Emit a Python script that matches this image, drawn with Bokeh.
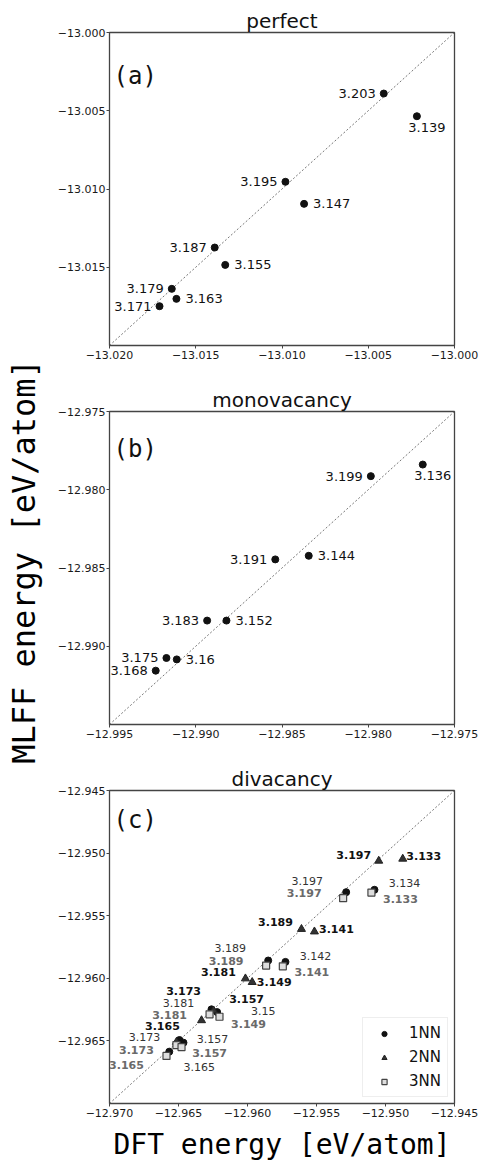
import math
from bokeh.plotting import figure
from bokeh.models import ColumnDataSource, FixedTicker, CustomJSTickFormatter, Label, Range1d
from bokeh.layouts import column, row
from bokeh.embed import file_html
from bokeh.resources import INLINE
from bokeh.core.properties import value

# ---------------- data ----------------
# (a) perfect
a_lat = ["3.203", "3.139", "3.195", "3.147", "3.187", "3.155", "3.179", "3.163", "3.171"]
a_dft = [-13.0041, -13.00218, -13.0098, -13.00872, -13.0139, -13.01329, -13.01639, -13.01612, -13.0171]
a_mlff = [-13.0039, -13.00535, -13.00954, -13.01095, -13.01374, -13.01485, -13.01638, -13.01702, -13.01749]
a_side = ["left", "below", "left", "right", "left", "right", "left", "right", "left"]
a_range = [-13.020, -13.000]
a_xticks = [-13.020, -13.015, -13.010, -13.005, -13.000]
a_yticks = [-13.015, -13.010, -13.005, -13.000]

# (b) monovacancy
b_lat = ["3.199", "3.136", "3.191", "3.144", "3.183", "3.152", "3.175", "3.16", "3.168"]
b_dft = [-12.97985, -12.97684, -12.98539, -12.98345, -12.98934, -12.98822, -12.9917, -12.9911, -12.99232]
b_mlff = [-12.97913, -12.97839, -12.98445, -12.98422, -12.98836, -12.98836, -12.99075, -12.99084, -12.99156]
b_side = ["left", "below", "left", "right", "left", "right", "left", "right", "left"]
b_range = [-12.995, -12.975]
b_xticks = [-12.995, -12.990, -12.985, -12.980, -12.975]
b_yticks = [-12.990, -12.985, -12.980, -12.975]

# (c) divacancy
c_range = [-12.970, -12.945]
c_xticks = [-12.970, -12.965, -12.960, -12.955, -12.950, -12.945]
c_yticks = [-12.965, -12.960, -12.955, -12.950, -12.945]

nn1_lat = ["3.197", "3.134", "3.189", "3.142", "3.181", "3.15", "3.173", "3.157", "3.165"]
nn1_dft = [-12.95285, -12.9508, -12.9585, -12.95725, -12.96261, -12.9622, -12.96493, -12.96464, -12.96567]
nn1_mlff = [-12.95312, -12.95293, -12.95858, -12.95869, -12.96248, -12.9627, -12.96493, -12.96514, -12.96586]
nn1_dx = [-39, 30, -38, 30, -33, 46, -35, 29, 30]
nn1_dy = [-11, -7, -13, -6, -6, -1, -3, -4, 15]

nn2_lat = ["3.197", "3.133", "3.189", "3.141", "3.181", "3.149", "3.173", "3.157", "3.165"]
nn2_dft = [-12.95049, -12.94875, -12.95609, -12.95515, -12.96015, -12.95966, -12.96333, -12.96246, -12.96515]
nn2_mlff = [-12.95062, -12.95046, -12.95607, -12.95627, -12.96002, -12.96031, -12.96336, -12.96258, -12.96509]
nn2_dx = [-25, 21, -26, 22, -27, 22, -18, 33, -14]
nn2_dy = [-6, -3, -7, -3, -7, 0, -29, -12, -16]

nn3_lat = ["3.197", "3.133", "3.189", "3.141", "3.181", "3.149", "3.173", "3.157", "3.165"]
nn3_dft = [-12.95307, -12.95102, -12.95865, -12.95744, -12.96275, -12.96203, -12.96515, -12.96478, -12.96587]
nn3_mlff = [-12.9536, -12.95315, -12.95898, -12.95904, -12.96288, -12.96307, -12.96533, -12.96549, -12.9662]
nn3_dx = [-39, 29, -40, 29, -40, 29, -40, 28, -40]
nn3_dy = [-5, 6, -5, 6, 1, 7, 5, 6, 9]

FONT = "DejaVu Sans"
MONO = "DejaVu Sans Mono"

fmt = CustomJSTickFormatter(code="return (tick < 0 ? '\\u2212' : '') + Math.abs(tick).toFixed(3);")


def make_panel(title, rng, xticks, yticks, top, bottom, letter, letter_dy):
    p = figure(frame_width=345, frame_height=313, min_border_left=65, min_border_right=27,
               min_border_top=top, min_border_bottom=bottom,
               x_range=Range1d(rng[0], rng[1]), y_range=Range1d(rng[0], rng[1]),
               toolbar_location=None, output_backend="svg")
    p.title.text = title
    p.title.align = "center"
    p.title.text_font = FONT
    p.title.text_font_size = "20px"
    p.title.text_font_style = "normal"
    p.title.text_color = "#111111"
    p.title.standoff = 0
    p.title.offset = 0
    p.grid.visible = False
    p.outline_line_color = "#444444"
    p.outline_line_width = 1.3
    p.xaxis.ticker = FixedTicker(ticks=xticks)
    p.yaxis.ticker = FixedTicker(ticks=yticks)
    for ax in (p.xaxis[0], p.yaxis[0]):
        ax.formatter = fmt
        ax.major_label_text_font = FONT
        ax.major_label_text_font_size = "11px"
        ax.major_label_text_color = "#1a1a1a"
        ax.major_tick_out = 3
        ax.major_tick_in = 0
        ax.minor_tick_out = 0
        ax.minor_tick_in = 0
        ax.axis_line_color = "#444444"
        ax.major_tick_line_color = "#444444"
    p.xaxis.major_label_standoff = 2
    p.yaxis.major_label_standoff = 1
    p.line(x=rng, y=rng, line_color="#777777", line_width=1, line_dash="2 2")
    p.add_layout(Label(x=rng[0], y=rng[1], x_offset=4, y_offset=-letter_dy, text=letter,
                       text_font=MONO, text_font_size="24px", text_baseline="middle",
                       text_align="left", text_color="#111111"))
    return p


def side_labels(p, xs, ys, labs, sides):
    cfg = {"left": (-8, 0, "right"), "right": (9, 0, "left"), "below": (10, 11, "center")}
    for s, (dx, dy, al) in cfg.items():
        idx = [i for i, v in enumerate(sides) if v == s]
        if not idx:
            continue
        src = ColumnDataSource(dict(x=[xs[i] for i in idx], y=[ys[i] for i in idx],
                                    t=[labs[i] for i in idx]))
        p.text(x="x", y="y", text="t", source=src, x_offset=dx, y_offset=dy,
               text_align=al, text_baseline="middle", text_font=value(FONT),
               text_font_size="13px", text_color="#111111")


# ----- (a)
pa = make_panel("perfect", a_range, a_xticks, a_yticks, 32, 25, "(a)", 43)
pa.scatter(a_dft, a_mlff, marker="circle", size=7, fill_color="#111111", line_color="#111111")
side_labels(pa, a_dft, a_mlff, a_lat, a_side)

# ----- (b)
pb = make_panel("monovacancy", b_range, b_xticks, b_yticks, 41, 20, "(b)", 37)
pb.scatter(b_dft, b_mlff, marker="circle", size=7, fill_color="#111111", line_color="#111111")
side_labels(pb, b_dft, b_mlff, b_lat, b_side)

# ----- (c)
pc = make_panel("divacancy", c_range, c_xticks, c_yticks, 46, 58, "(c)", 29)
pc.xaxis.axis_label = "DFT energy [eV/atom]"
pc.xaxis.axis_label_text_font = MONO
pc.xaxis.axis_label_text_font_size = "28px"
pc.xaxis.axis_label_text_font_style = "normal"
pc.xaxis.axis_label_text_color = "#000000"
pc.xaxis.axis_label_standoff = 8

r1 = pc.scatter(nn1_dft, nn1_mlff, marker="circle", size=7, fill_color="#111111",
                line_color="#111111", legend_label="1NN")
r2 = pc.scatter(nn2_dft, nn2_mlff, marker="triangle", size=8, fill_color="#333333",
                line_color="#222222", legend_label="2NN")
r3 = pc.scatter(nn3_dft, nn3_mlff, marker="square", size=7, fill_color="#dddddd",
                line_color="#444444", line_width=1.2, legend_label="3NN")

for xs, ys, labs, dxs, dys, col, sty in [
        (nn1_dft, nn1_mlff, nn1_lat, nn1_dx, nn1_dy, "#333333", "normal"),
        (nn2_dft, nn2_mlff, nn2_lat, nn2_dx, nn2_dy, "#111111", "bold"),
        (nn3_dft, nn3_mlff, nn3_lat, nn3_dx, nn3_dy, "#6a6a6a", "bold")]:
    src = ColumnDataSource(dict(x=xs, y=ys, t=labs, dx=dxs, dy=dys))
    pc.text(x="x", y="y", text="t", source=src, x_offset="dx", y_offset="dy",
            text_align="center", text_baseline="middle", text_font=value(FONT),
            text_font_size="11px", text_font_style=sty, text_color=col)

lg = pc.legend[0]
lg.location = "bottom_right"
lg.margin = 6
lg.padding = 6
lg.spacing = 6
lg.glyph_width = 30
lg.glyph_height = 13
lg.label_standoff = 10
lg.label_height = 18
lg.label_text_font = FONT
lg.label_text_font_size = "15px"
lg.label_text_color = "#111111"
lg.border_line_color = "#dddddd"
lg.border_line_width = 1
lg.background_fill_alpha = 0.85

# ----- shared y-axis label
lab = figure(width=44, height=1160, x_range=Range1d(0, 44), y_range=Range1d(0, 1160),
             toolbar_location=None, output_backend="svg", min_border=0,
             min_border_left=0, min_border_right=0, min_border_top=0, min_border_bottom=0,
             x_axis_location=None, y_axis_location=None)
lab.grid.visible = False
lab.outline_line_color = None
lab.text(x=[23], y=[599], text=["MLFF energy [eV/atom]"], angle=math.pi / 2,
         text_align="center", text_baseline="middle", text_font=value(MONO),
         text_font_size="32px", text_font_style="normal", text_color="#000000")

layout = row(lab, column(pa, pb, pc, spacing=0), spacing=0)

with open("out.html", "w") as f:
    f.write(file_html(layout, INLINE))
